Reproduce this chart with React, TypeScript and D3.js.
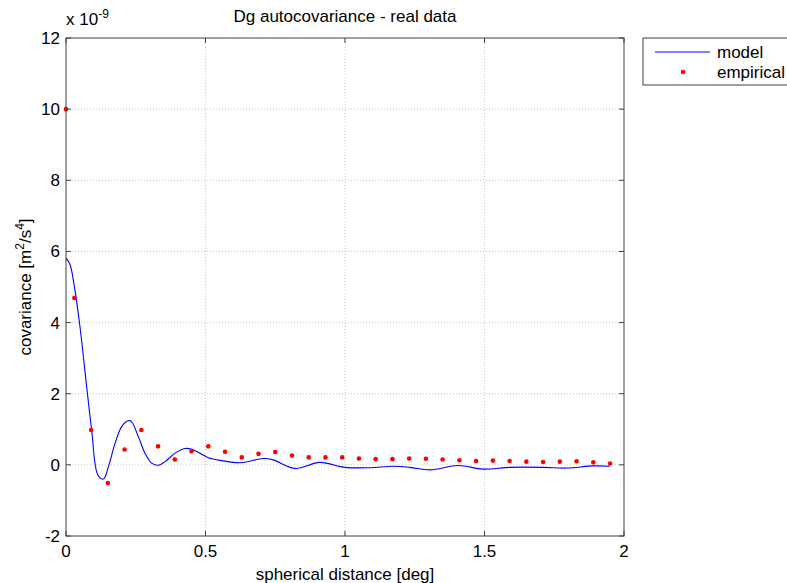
import React from "react";
import * as d3 from "d3";

// Empirical covariance (x in deg, y in 1e-9 m^2/s^4)
const empX: number[] = [0, 0.03, 0.09, 0.15, 0.21, 0.27, 0.33, 0.39, 0.45, 0.51, 0.57, 0.63, 0.69, 0.75, 0.81, 0.87, 0.93, 0.99, 1.05, 1.11, 1.17, 1.23, 1.29, 1.35, 1.41, 1.47, 1.53, 1.59, 1.65, 1.71, 1.77, 1.83, 1.89, 1.95];
const empY: number[] = [10.0, 4.69, 0.98, -0.51, 0.43, 0.98, 0.52, 0.15, 0.38, 0.52, 0.37, 0.21, 0.31, 0.36, 0.26, 0.21, 0.21, 0.21, 0.18, 0.16, 0.16, 0.18, 0.17, 0.15, 0.13, 0.11, 0.12, 0.11, 0.09, 0.08, 0.09, 0.10, 0.07, 0.04];

// Model covariance curve
const modelX: number[] = [0, 0.014, 0.03, 0.05, 0.074, 0.092, 0.114, 0.134, 0.152, 0.176, 0.2, 0.223, 0.235, 0.259, 0.283, 0.307, 0.331, 0.355, 0.391, 0.427, 0.451, 0.486, 0.51, 0.558, 0.624, 0.707, 0.743, 0.821, 0.91, 1.0, 1.09, 1.173, 1.233, 1.305, 1.406, 1.496, 1.591, 1.711, 1.795, 1.89, 1.95];
const modelY: number[] = [5.81, 5.64, 5.01, 3.89, 2.2, 0.98, -0.28, -0.4, -0.05, 0.61, 1.08, 1.24, 1.21, 0.8, 0.33, 0.05, -0.01, 0.09, 0.33, 0.46, 0.44, 0.3, 0.2, 0.12, 0.06, 0.18, 0.14, -0.1, 0.07, -0.07, -0.08, -0.04, -0.07, -0.14, -0.02, -0.12, -0.07, -0.07, -0.09, -0.03, -0.04];

const xTicks: number[] = [0, 0.5, 1, 1.5, 2];
const yTicks: number[] = [-2, 0, 2, 4, 6, 8, 10, 12];

const W = 787, H = 583;
const L = 66, R = 624, T = 38, B = 536;
const FONT = "'Liberation Sans', Arial, sans-serif";
const FS = 17;
const SUP = 12;

export default function App() {
  const x = d3.scaleLinear().domain([0, 2]).range([L, R]);
  const y = d3.scaleLinear().domain([-2, 12]).range([B, T]);
  const line = d3
    .line<number>()
    .x((_, i) => x(modelX[i]))
    .y((d) => y(d))
    .curve(d3.curveCatmullRom.alpha(0.5));
  const axisColor = "#404040";
  const gridColor = "#c8c8c8";
  const tickLen = 5;
  return (
    <svg width={W} height={H} style={{ position: "absolute", left: 0, top: 0, background: "#fff" }} fontFamily={FONT}>
      <rect x={0} y={0} width={W} height={H} fill="#fff" />
      {/* grid */}
      {xTicks.slice(1, -1).map((t) => (
        <line key={"gx" + t} x1={x(t)} x2={x(t)} y1={T} y2={B} stroke={gridColor} strokeDasharray="1,2" strokeWidth={1} />
      ))}
      {yTicks.slice(1, -1).map((t) => (
        <line key={"gy" + t} x1={L} x2={R} y1={y(t)} y2={y(t)} stroke={gridColor} strokeDasharray="1,2" strokeWidth={1} />
      ))}
      {/* model line */}
      <path d={line(modelY) || ""} fill="none" stroke="#0000ff" strokeWidth={1.1} />
      {/* empirical */}
      {empX.map((v, i) => (
        <circle key={"e" + i} cx={x(v)} cy={y(empY[i])} r={2.3} fill="#ff0000" />
      ))}
      {/* box */}
      <rect x={L} y={T} width={R - L} height={B - T} fill="none" stroke={axisColor} strokeWidth={1} />
      {/* ticks */}
      {xTicks.map((t) => (
        <g key={"tx" + t}>
          <line x1={x(t)} x2={x(t)} y1={B} y2={B - tickLen} stroke={axisColor} />
          <line x1={x(t)} x2={x(t)} y1={T} y2={T + tickLen} stroke={axisColor} />
          <text x={x(t)} y={B + 21} textAnchor="middle" fontSize={FS} fill="#000">
            {t}
          </text>
        </g>
      ))}
      {yTicks.map((t) => (
        <g key={"ty" + t}>
          <line x1={L} x2={L + tickLen} y1={y(t)} y2={y(t)} stroke={axisColor} />
          <line x1={R} x2={R - tickLen} y1={y(t)} y2={y(t)} stroke={axisColor} />
          <text x={L - 6} y={y(t) + 6} textAnchor="end" fontSize={FS} fill="#000">
            {t}
          </text>
        </g>
      ))}
      {/* exponent */}
      <text x={L} y={25} fontSize={FS} fill="#000">
        x 10<tspan dy={-7} fontSize={SUP}>-9</tspan>
      </text>
      {/* title */}
      <text x={(L + R) / 2} y={22} textAnchor="middle" fontSize={FS} fill="#000">
        Dg autocovariance - real data
      </text>
      {/* x label */}
      <text x={(L + R) / 2} y={580} textAnchor="middle" fontSize={FS} fill="#000">
        spherical distance [deg]
      </text>
      {/* y label */}
      <text transform={`translate(31,${(T + B) / 2}) rotate(-90)`} textAnchor="middle" fontSize={FS} fill="#000">
        covariance [m<tspan dy={-7} fontSize={SUP}>2</tspan><tspan dy={7}>/s</tspan><tspan dy={-7} fontSize={SUP}>4</tspan><tspan dy={7}>]</tspan>
      </text>
      {/* legend */}
      <rect x={643} y={38} width={160} height={47} fill="#fff" stroke={axisColor} strokeWidth={1} />
      <line x1={655} x2={710} y1={52} y2={52} stroke="#0000ff" strokeWidth={1.1} />
      <text x={717} y={58} fontSize={FS} fill="#000">model</text>
      <circle cx={683} cy={72} r={2.3} fill="#ff0000" />
      <text x={717} y={78} fontSize={FS} fill="#000">empirical</text>
    </svg>
  );
}
